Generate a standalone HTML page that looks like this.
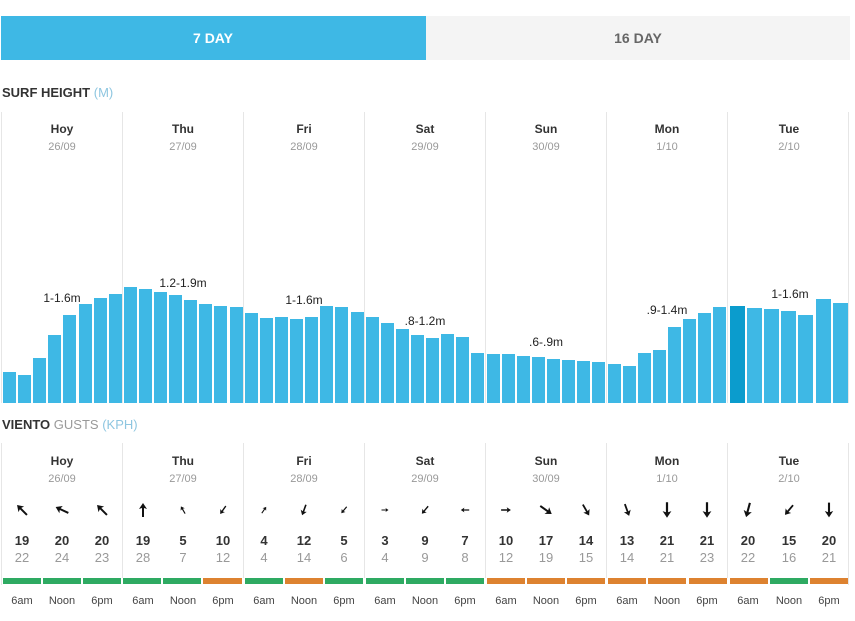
<!DOCTYPE html>
<html><head><meta charset="utf-8"><style>
body{margin:0;background:#fff;width:855px;height:616px;overflow:hidden}
text{font-family:"Liberation Sans",sans-serif}
.d{font-size:12px;font-weight:bold;fill:#333;text-anchor:middle}
.dt{font-size:11px;fill:#999;text-anchor:middle}
.lb{font-size:12px;fill:#222;text-anchor:middle}
.sp{font-size:13px;font-weight:bold;fill:#333;text-anchor:middle}
.gu{font-size:13px;fill:#999;text-anchor:middle}
.tm{font-size:11px;fill:#444;text-anchor:middle}
</style></head><body>
<svg width="855" height="616" xmlns="http://www.w3.org/2000/svg">
<rect x="1" y="16" width="425" height="44" fill="#3eb8e5"/>
<rect x="426" y="16" width="424" height="44" fill="#f4f4f4"/>
<text x="213" y="43" font-size="14" font-weight="bold" fill="#fff" text-anchor="middle">7 DAY</text>
<text x="638" y="43" font-size="14" font-weight="bold" fill="#666" text-anchor="middle">16 DAY</text>
<text x="2" y="97" font-size="13" font-weight="bold" fill="#333">SURF HEIGHT <tspan font-weight="normal" fill="#8ec6e0">(M)</tspan></text>
<text x="2" y="429" font-size="13" font-weight="bold" fill="#333">VIENTO <tspan font-weight="normal" fill="#999">GUSTS</tspan> <tspan font-weight="normal" fill="#8ec6e0">(KPH)</tspan></text>
<g stroke="#e6e6e6" stroke-width="1">
<line x1="1.5" y1="112" x2="1.5" y2="403"/><line x1="122.5" y1="112" x2="122.5" y2="403"/><line x1="243.5" y1="112" x2="243.5" y2="403"/><line x1="364.5" y1="112" x2="364.5" y2="403"/><line x1="485.5" y1="112" x2="485.5" y2="403"/><line x1="606.5" y1="112" x2="606.5" y2="403"/><line x1="727.5" y1="112" x2="727.5" y2="403"/><line x1="848.5" y1="112" x2="848.5" y2="403"/>
<line x1="1.5" y1="443" x2="1.5" y2="585"/><line x1="122.5" y1="443" x2="122.5" y2="578"/><line x1="243.5" y1="443" x2="243.5" y2="578"/><line x1="364.5" y1="443" x2="364.5" y2="578"/><line x1="485.5" y1="443" x2="485.5" y2="578"/><line x1="606.5" y1="443" x2="606.5" y2="578"/><line x1="727.5" y1="443" x2="727.5" y2="578"/><line x1="848.5" y1="443" x2="848.5" y2="585"/>
</g>
<g>
<text class="d" x="62" y="133">Hoy</text><text class="dt" x="62" y="150">26/09</text>
<text class="d" x="183" y="133">Thu</text><text class="dt" x="183" y="150">27/09</text>
<text class="d" x="304" y="133">Fri</text><text class="dt" x="304" y="150">28/09</text>
<text class="d" x="425" y="133">Sat</text><text class="dt" x="425" y="150">29/09</text>
<text class="d" x="546" y="133">Sun</text><text class="dt" x="546" y="150">30/09</text>
<text class="d" x="667" y="133">Mon</text><text class="dt" x="667" y="150">1/10</text>
<text class="d" x="789" y="133">Tue</text><text class="dt" x="789" y="150">2/10</text>
<text class="d" x="62" y="465">Hoy</text><text class="dt" x="62" y="482">26/09</text>
<text class="d" x="183" y="465">Thu</text><text class="dt" x="183" y="482">27/09</text>
<text class="d" x="304" y="465">Fri</text><text class="dt" x="304" y="482">28/09</text>
<text class="d" x="425" y="465">Sat</text><text class="dt" x="425" y="482">29/09</text>
<text class="d" x="546" y="465">Sun</text><text class="dt" x="546" y="482">30/09</text>
<text class="d" x="667" y="465">Mon</text><text class="dt" x="667" y="482">1/10</text>
<text class="d" x="789" y="465">Tue</text><text class="dt" x="789" y="482">2/10</text>
</g>
<g fill="#3eb8e5">
<rect x="3" y="372" width="13" height="31"/><rect x="18" y="375" width="13" height="28"/><rect x="33" y="358" width="13" height="45"/><rect x="48" y="335" width="13" height="68"/><rect x="63" y="315" width="13" height="88"/><rect x="79" y="304" width="13" height="99"/><rect x="94" y="298" width="13" height="105"/><rect x="109" y="294" width="13" height="109"/>
<rect x="124" y="287" width="13" height="116"/><rect x="139" y="289" width="13" height="114"/><rect x="154" y="292" width="13" height="111"/><rect x="169" y="295" width="13" height="108"/><rect x="184" y="300" width="13" height="103"/><rect x="199" y="304" width="13" height="99"/><rect x="214" y="306" width="13" height="97"/><rect x="230" y="307" width="13" height="96"/>
<rect x="245" y="313" width="13" height="90"/><rect x="260" y="318" width="13" height="85"/><rect x="275" y="317" width="13" height="86"/><rect x="290" y="319" width="13" height="84"/><rect x="305" y="317" width="13" height="86"/><rect x="320" y="306" width="13" height="97"/><rect x="335" y="307" width="13" height="96"/><rect x="351" y="312" width="13" height="91"/>
<rect x="366" y="317" width="13" height="86"/><rect x="381" y="323" width="13" height="80"/><rect x="396" y="329" width="13" height="74"/><rect x="411" y="335" width="13" height="68"/><rect x="426" y="338" width="13" height="65"/><rect x="441" y="334" width="13" height="69"/><rect x="456" y="337" width="13" height="66"/><rect x="471" y="353" width="13" height="50"/>
<rect x="487" y="354" width="13" height="49"/><rect x="502" y="354" width="13" height="49"/><rect x="517" y="356" width="13" height="47"/><rect x="532" y="357" width="13" height="46"/><rect x="547" y="359" width="13" height="44"/><rect x="562" y="360" width="13" height="43"/><rect x="577" y="361" width="13" height="42"/><rect x="592" y="362" width="13" height="41"/>
<rect x="608" y="364" width="13" height="39"/><rect x="623" y="366" width="13" height="37"/><rect x="638" y="353" width="13" height="50"/><rect x="653" y="350" width="13" height="53"/><rect x="668" y="327" width="13" height="76"/><rect x="683" y="319" width="13" height="84"/><rect x="698" y="313" width="13" height="90"/><rect x="713" y="307" width="13" height="96"/>
<rect x="730" y="306" width="15" height="97" fill="#0b9ccd"/><rect x="747" y="308" width="15" height="95"/><rect x="764" y="309" width="15" height="94"/><rect x="781" y="311" width="15" height="92"/><rect x="798" y="315" width="15" height="88"/><rect x="816" y="299" width="15" height="104"/><rect x="833" y="303" width="15" height="100"/>
</g>
<g>
<text class="lb" x="62" y="302">1-1.6m</text>
<text class="lb" x="183" y="287">1.2-1.9m</text>
<text class="lb" x="304" y="304">1-1.6m</text>
<text class="lb" x="425" y="325">.8-1.2m</text>
<text class="lb" x="546" y="346">.6-.9m</text>
<text class="lb" x="667" y="314">.9-1.4m</text>
<text class="lb" x="790" y="298">1-1.6m</text>
</g>
<defs><path id="ar" d="M0,-7 L4,-1 L1,-2 L1,7 L-1,7 L-1,-2 L-4,-1 Z" fill="#111"/></defs>
<g>
<use href="#ar" transform="translate(22,510) rotate(-45)"/>
<use href="#ar" transform="translate(62,510) rotate(-65)"/>
<use href="#ar" transform="translate(102,510) rotate(-45)"/>
<use href="#ar" transform="translate(143,510) rotate(0)"/>
<use href="#ar" transform="translate(183,510) rotate(-30) scale(0.6)"/>
<use href="#ar" transform="translate(223,510) rotate(215) scale(0.7)"/>
<use href="#ar" transform="translate(264,510) rotate(35) scale(0.55)"/>
<use href="#ar" transform="translate(304,510) rotate(200) scale(0.8)"/>
<use href="#ar" transform="translate(344,510) rotate(220) scale(0.6)"/>
<use href="#ar" transform="translate(385,510) rotate(90) scale(0.5)"/>
<use href="#ar" transform="translate(425,510) rotate(220) scale(0.7)"/>
<use href="#ar" transform="translate(465,510) rotate(270) scale(0.6)"/>
<use href="#ar" transform="translate(506,510) rotate(90) scale(0.7)"/>
<use href="#ar" transform="translate(546,510) rotate(125)"/>
<use href="#ar" transform="translate(586,510) rotate(150) scale(0.9)"/>
<use href="#ar" transform="translate(627,510) rotate(160) scale(0.9)"/>
<use href="#ar" transform="translate(667,510) rotate(180) scale(1.1)"/>
<use href="#ar" transform="translate(707,510) rotate(180) scale(1.1)"/>
<use href="#ar" transform="translate(748,510) rotate(195) scale(1.05)"/>
<use href="#ar" transform="translate(789,510) rotate(220) scale(0.9)"/>
<use href="#ar" transform="translate(829,510) rotate(180) scale(1.05)"/>
</g>
<g>
<text class="sp" x="22" y="545">19</text><text class="gu" x="22" y="562">22</text>
<text class="sp" x="62" y="545">20</text><text class="gu" x="62" y="562">24</text>
<text class="sp" x="102" y="545">20</text><text class="gu" x="102" y="562">23</text>
<text class="sp" x="143" y="545">19</text><text class="gu" x="143" y="562">28</text>
<text class="sp" x="183" y="545">5</text><text class="gu" x="183" y="562">7</text>
<text class="sp" x="223" y="545">10</text><text class="gu" x="223" y="562">12</text>
<text class="sp" x="264" y="545">4</text><text class="gu" x="264" y="562">4</text>
<text class="sp" x="304" y="545">12</text><text class="gu" x="304" y="562">14</text>
<text class="sp" x="344" y="545">5</text><text class="gu" x="344" y="562">6</text>
<text class="sp" x="385" y="545">3</text><text class="gu" x="385" y="562">4</text>
<text class="sp" x="425" y="545">9</text><text class="gu" x="425" y="562">9</text>
<text class="sp" x="465" y="545">7</text><text class="gu" x="465" y="562">8</text>
<text class="sp" x="506" y="545">10</text><text class="gu" x="506" y="562">12</text>
<text class="sp" x="546" y="545">17</text><text class="gu" x="546" y="562">19</text>
<text class="sp" x="586" y="545">14</text><text class="gu" x="586" y="562">15</text>
<text class="sp" x="627" y="545">13</text><text class="gu" x="627" y="562">14</text>
<text class="sp" x="667" y="545">21</text><text class="gu" x="667" y="562">21</text>
<text class="sp" x="707" y="545">21</text><text class="gu" x="707" y="562">23</text>
<text class="sp" x="748" y="545">20</text><text class="gu" x="748" y="562">22</text>
<text class="sp" x="789" y="545">15</text><text class="gu" x="789" y="562">16</text>
<text class="sp" x="829" y="545">20</text><text class="gu" x="829" y="562">21</text>
</g>
<g>
<rect x="3" y="578" width="38" height="6" fill="#2eaa62"/><rect x="43" y="578" width="38" height="6" fill="#2eaa62"/><rect x="83" y="578" width="38" height="6" fill="#2eaa62"/>
<rect x="123" y="578" width="38" height="6" fill="#2eaa62"/><rect x="163" y="578" width="38" height="6" fill="#2eaa62"/><rect x="203" y="578" width="39" height="6" fill="#dd8230"/>
<rect x="245" y="578" width="38" height="6" fill="#2eaa62"/><rect x="285" y="578" width="38" height="6" fill="#dd8230"/><rect x="325" y="578" width="38" height="6" fill="#2eaa62"/>
<rect x="366" y="578" width="38" height="6" fill="#2eaa62"/><rect x="406" y="578" width="38" height="6" fill="#2eaa62"/><rect x="446" y="578" width="38" height="6" fill="#2eaa62"/>
<rect x="487" y="578" width="38" height="6" fill="#dd8230"/><rect x="527" y="578" width="38" height="6" fill="#dd8230"/><rect x="567" y="578" width="38" height="6" fill="#dd8230"/>
<rect x="608" y="578" width="38" height="6" fill="#dd8230"/><rect x="648" y="578" width="38" height="6" fill="#dd8230"/><rect x="689" y="578" width="38" height="6" fill="#dd8230"/>
<rect x="730" y="578" width="38" height="6" fill="#dd8230"/><rect x="770" y="578" width="38" height="6" fill="#2eaa62"/><rect x="810" y="578" width="38" height="6" fill="#dd8230"/>
</g>
<g>
<text class="tm" x="22" y="604">6am</text><text class="tm" x="62" y="604">Noon</text><text class="tm" x="102" y="604">6pm</text>
<text class="tm" x="143" y="604">6am</text><text class="tm" x="183" y="604">Noon</text><text class="tm" x="223" y="604">6pm</text>
<text class="tm" x="264" y="604">6am</text><text class="tm" x="304" y="604">Noon</text><text class="tm" x="344" y="604">6pm</text>
<text class="tm" x="385" y="604">6am</text><text class="tm" x="425" y="604">Noon</text><text class="tm" x="465" y="604">6pm</text>
<text class="tm" x="506" y="604">6am</text><text class="tm" x="546" y="604">Noon</text><text class="tm" x="586" y="604">6pm</text>
<text class="tm" x="627" y="604">6am</text><text class="tm" x="667" y="604">Noon</text><text class="tm" x="707" y="604">6pm</text>
<text class="tm" x="748" y="604">6am</text><text class="tm" x="789" y="604">Noon</text><text class="tm" x="829" y="604">6pm</text>
</g>
</svg>
</body></html>
